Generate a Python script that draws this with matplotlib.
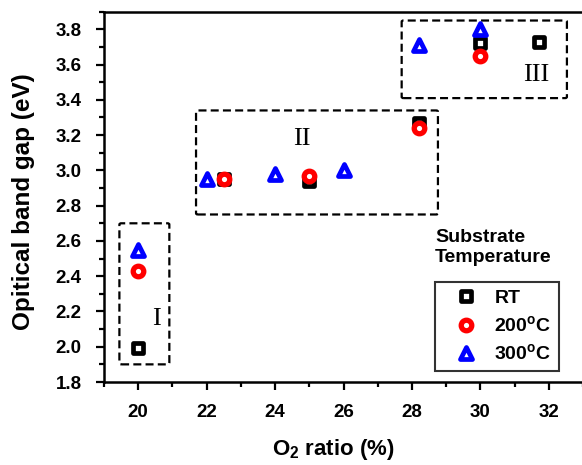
import matplotlib
matplotlib.use("Agg")
import matplotlib.pyplot as plt
from matplotlib.patches import FancyBboxPatch
from matplotlib.markers import MarkerStyle
from matplotlib.ticker import MultipleLocator

plt.rcParams['font.family'] = ['Liberation Sans', 'DejaVu Sans']

rt_x = [20.0, 22.5, 25.0, 28.2, 30.0, 31.7]
rt_y = [1.99, 2.95, 2.94, 3.27, 3.72, 3.73]
t200_x = [20.0, 22.5, 25.0, 28.2, 30.0]
t200_y = [2.43, 2.95, 2.97, 3.24, 3.65]
t300_x = [20.0, 22.0, 24.0, 26.0, 28.2, 30.0]
t300_y = [2.55, 2.95, 2.98, 3.00, 3.71, 3.80]

series_labels = ["RT", "200$^\\mathregular{o}$C", "300$^\\mathregular{o}$C"]
region_labels = ["I", "II", "III"]
region_boxes = [(19.45, 1.90, 20.91, 2.70), (21.69, 2.75, 28.76, 3.34), (27.70, 3.41, 32.53, 3.85)]
region_text_pos = [(20.54, 2.16), (24.78, 3.18), (31.63, 3.54)]
yticks = [1.8, 2.0, 2.2, 2.4, 2.6, 2.8, 3.0, 3.2, 3.4, 3.6, 3.8]
xticks = [20, 22, 24, 26, 28, 30, 32]

W, H = 582, 465
fig = plt.figure(figsize=(W / 100, H / 100), dpi=100)
ax = fig.add_axes([104 / W, (H - 382) / H, 479 / W, (382 - 11.7) / H])

def mstyle(m):
    return MarkerStyle(m, joinstyle='round')

ax.plot(rt_x, rt_y, linestyle='none', marker=mstyle('s'), markersize=6.6, markeredgewidth=3.4,
        color='black', markerfacecolor='white', label=series_labels[0], zorder=3)
ax.plot(t200_x, t200_y, linestyle='none', marker=mstyle('o'), markersize=7.6, markeredgewidth=3.8,
        color='#ff0000', markerfacecolor='white', label=series_labels[1], zorder=4)
ax.plot(t300_x, t300_y, linestyle='none', marker=mstyle('^'), markersize=9.2, markeredgewidth=3.4,
        color='#0000ff', markerfacecolor='white', label=series_labels[2], zorder=5)

for (x0, y0, x1, y1), lab, (tx, ty) in zip(region_boxes, region_labels, region_text_pos):
    p = FancyBboxPatch((x0, y0), x1 - x0, y1 - y0, boxstyle="round,pad=0,rounding_size=0.05",
                       fill=False, edgecolor='black', linestyle=(0, (3.6, 1.9)), linewidth=1.6,
                       mutation_aspect=0.15, zorder=2)
    ax.add_patch(p)
    ax.text(tx, ty, lab, fontsize=19, family=['Liberation Serif', 'DejaVu Serif'],
            ha='center', va='center')

ax.set_xlim(19, 33)
ax.set_ylim(1.8, 3.9)
ax.set_xticks(xticks)
ax.set_yticks(yticks)
ax.set_yticklabels([f"{v:.1f}" for v in yticks])
ax.xaxis.set_minor_locator(MultipleLocator(1))
ax.yaxis.set_minor_locator(MultipleLocator(0.1))
ax.tick_params(which='major', direction='out', length=6, width=1.6, labelsize=13.5)
ax.tick_params(axis='x', which='major', pad=10)
ax.tick_params(axis='y', which='major', pad=10)
ax.tick_params(which='minor', direction='out', length=3.5, width=1.6)
for lbl in ax.get_xticklabels() + ax.get_yticklabels():
    lbl.set_fontweight('bold')
for s in ['left', 'bottom', 'top']:
    ax.spines[s].set_linewidth(1.8)
ax.spines['right'].set_visible(False)

ax.set_xlabel("O$_\\mathregular{2}$ ratio (%)", fontsize=16, fontweight='bold')
ax.xaxis.set_label_coords((333 - 104) / 479, (382 - 437) / 370.3)
ax.set_ylabel("Opitical band gap (eV)", fontsize=17.5, fontweight='bold')
ax.yaxis.set_label_coords((35 - 104) / 479, (382 - 202) / 370.3)

fig.text(435 / W, 1 - 229 / H, "Substrate\nTemperature", fontsize=14, fontweight='bold',
         ha='left', va='top', linespacing=1.2)
leg = ax.legend(loc='lower left', bbox_to_anchor=((435 - 104) / 479, (382 - 371) / 370.3),
                borderaxespad=0, frameon=True, fancybox=False, edgecolor='black',
                fontsize=14, handletextpad=0.2, borderpad=0.36, labelspacing=0.4,
                handlelength=2.5, numpoints=1)
leg.get_frame().set_linewidth(1.5)
for t in leg.get_texts():
    t.set_fontweight('bold')

fig.savefig("out.png", dpi=100)
